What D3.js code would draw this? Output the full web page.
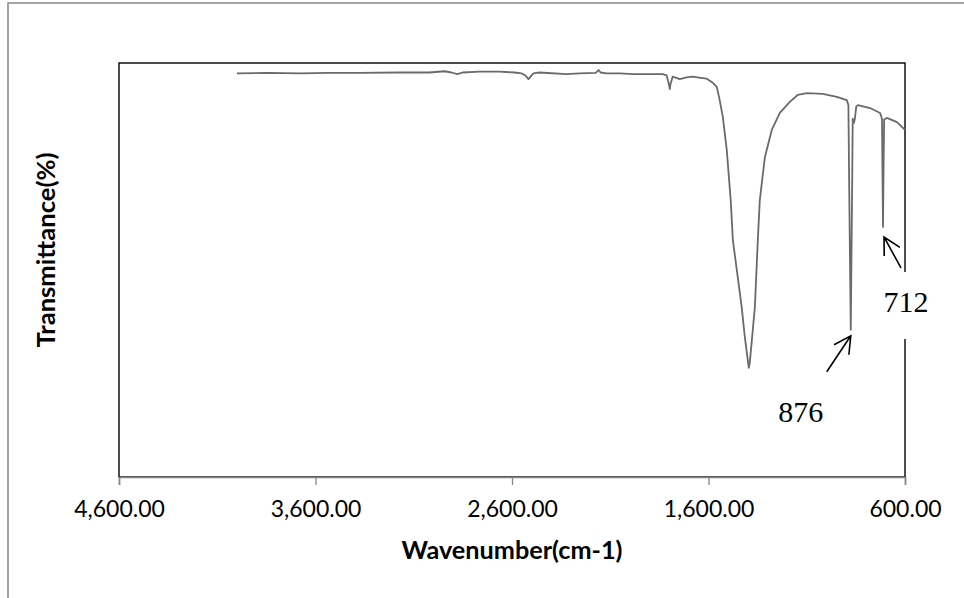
<!DOCTYPE html>
<html>
<head>
<meta charset="utf-8">
<script src="https://cdn.jsdelivr.net/npm/d3@7"></script>
<style>
  body { margin: 0; background: #fff; }
  svg { display: block; }
  .tick text { font-family: Lato, "Open Sans", sans-serif; font-size: 23px; fill: #000; }
  .title { font-family: Lato, "Open Sans", sans-serif; font-size: 24px; font-weight: bold; fill: #000; }
  .note { font-family: "Liberation Serif", "Times New Roman", serif; font-size: 30px; fill: #000; }
</style>
</head>
<body>
<svg width="964" height="598"></svg>
<script>
// spectrum (wavenumber cm-1, transmittance %)
var wavenumbers = [4000, 3840, 3680, 3530, 3380, 3170, 3020, 2944, 2908, 2878,
  2852, 2766, 2664, 2587, 2552, 2530, 2516, 2502, 2491, 2460,
  2322, 2256, 2174, 2159, 2149, 2119, 2052, 1986, 1899, 1833,
  1813, 1800, 1797, 1793, 1782, 1746, 1711, 1680, 1640, 1609,
  1578, 1558, 1545, 1527, 1507, 1487, 1476, 1431, 1416, 1395,
  1390, 1364, 1349, 1339, 1313, 1278, 1237, 1186, 1145, 1099,
  1018, 947, 896, 888, 884, 876, 869, 866, 860, 855,
  848, 840, 778, 727, 717, 715, 712, 709, 706, 692,
  641, 600];
var transmittance = [97.5, 97.6, 97.5, 97.6, 97.6, 97.7, 97.7, 98.0, 97.7, 97.3,
  97.7, 97.9, 97.9, 97.7, 97.5, 96.9, 96.1, 96.9, 97.5, 97.7,
  97.3, 97.5, 97.6, 98.3, 97.7, 97.5, 97.5, 97.3, 97.3, 97.3,
  97.0, 94.5, 93.7, 95.0, 96.7, 96.1, 96.5, 96.7, 96.4, 96.2,
  95.2, 94.2, 91.5, 86.9, 78.9, 66.8, 57.1, 40.9, 34.0, 26.2,
  27.4, 40.9, 57.1, 66.8, 77.2, 83.8, 87.9, 90.6, 92.3, 92.7,
  92.5, 91.8, 91.0, 89.8, 70.0, 35.4, 70.0, 86.5, 85.5, 86.5,
  89.5, 89.8, 89.1, 87.9, 86.5, 75.0, 60.3, 75.0, 86.3, 86.7,
  85.7, 83.8];
var xTicks = [4600, 3600, 2600, 1600, 600];
var peakLabels = [876, 712];

var svg = d3.select("svg"),
  width = +svg.attr("width"),
  height = +svg.attr("height");
var plot = { left: 119, right: 905, top: 63, bottom: 477 };

var data = wavenumbers.map(function (w, i) { return { w: w, t: transmittance[i] }; });

var x = d3.scaleLinear().domain([4600, 600]).range([plot.left, plot.right]);
var y = d3.scaleLinear().domain([0, 100]).range([plot.bottom - 1, plot.top]);

// outer chart border (runs off the right and bottom of the picture)
svg.append("rect")
  .attr("x", 8).attr("y", 3)
  .attr("width", width + 20).attr("height", height + 20)
  .attr("fill", "none").attr("stroke", "#888").attr("stroke-width", 1.5);

// plot area border
svg.append("rect")
  .attr("x", plot.left).attr("y", plot.top)
  .attr("width", plot.right - plot.left).attr("height", plot.bottom - plot.top)
  .attr("fill", "none").attr("stroke", "#000").attr("stroke-width", 1.4);

var xAxis = svg.append("g")
  .attr("transform", "translate(0," + plot.bottom + ")")
  .call(d3.axisBottom(x).tickValues(xTicks).tickFormat(d3.format(",.2f")).tickSize(8).tickPadding(16));
xAxis.select(".domain").attr("stroke", "#868686").attr("stroke-width", 1.6);
xAxis.selectAll(".tick line").attr("stroke", "#868686").attr("stroke-width", 1.3);

// spectrum
svg.append("path")
  .datum(data)
  .attr("fill", "none")
  .attr("stroke", "#6a6a6a")
  .attr("stroke-width", 1.8)
  .attr("stroke-linejoin", "round")
  .attr("d", d3.line().x(function (d) { return x(d.w); }).y(function (d) { return y(d.t); }));

// axis titles
svg.append("text")
  .attr("class", "title")
  .attr("x", (plot.left + plot.right) / 2)
  .attr("y", 559)
  .attr("text-anchor", "middle")
  .attr("textLength", 221).attr("lengthAdjust", "spacingAndGlyphs")
  .text("Wavenumber(cm-1)");

svg.append("text")
  .attr("class", "title")
  .attr("transform", "translate(55,250) rotate(-90)")
  .attr("text-anchor", "middle")
  .attr("textLength", 195).attr("lengthAdjust", "spacingAndGlyphs")
  .text("Transmittance(%)");

// peak annotations
function arrow(g, x1, y1, x2, y2) {
  var ang = Math.atan2(y1 - y2, x1 - x2), len = 19, spread = 28 * Math.PI / 180;
  var d = "M" + x1 + "," + y1 + "L" + x2 + "," + y2 +
    "M" + (x2 + len * Math.cos(ang - spread)) + "," + (y2 + len * Math.sin(ang - spread)) +
    "L" + x2 + "," + y2 +
    "L" + (x2 + len * Math.cos(ang + spread)) + "," + (y2 + len * Math.sin(ang + spread));
  g.append("path").attr("d", d).attr("fill", "none").attr("stroke", "#000").attr("stroke-width", 1.6);
}

var notes = svg.append("g");
peakLabels.forEach(function (p) {
  var i = wavenumbers.indexOf(p);
  var tx = x(p), ty = y(transmittance[i]);
  if (p === 876) {
    var tip = [tx, ty + 6];
    arrow(notes, tip[0] - 24, tip[1] + 36, tip[0], tip[1]);
    notes.append("text").attr("class", "note")
      .attr("x", tip[0] - 50).attr("y", tip[1] + 86)
      .attr("text-anchor", "middle").text(p);
  } else {
    var tip2 = [tx + 1, ty + 10];
    arrow(notes, tip2[0] + 17, tip2[1] + 31, tip2[0], tip2[1]);
    notes.append("rect")
      .attr("x", tip2[0] - 8).attr("y", tip2[1] + 35)
      .attr("width", 62).attr("height", 67)
      .attr("fill", "#fff");
    notes.append("text").attr("class", "note")
      .attr("x", tip2[0] + 22).attr("y", tip2[1] + 75)
      .attr("text-anchor", "middle").text(p);
  }
});
</script>
</body>
</html>
